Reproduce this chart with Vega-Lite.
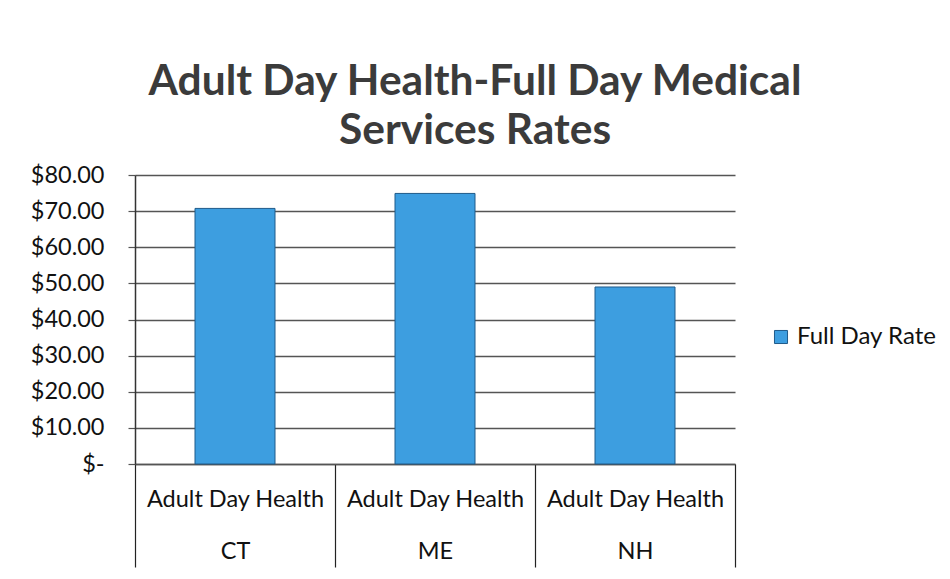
{
  "$schema": "https://vega.github.io/schema/vega-lite/v6.json",
  "width": 600,
  "height": 289,
  "autosize": {"type": "none"},
  "padding": {"left": 135, "top": 175, "right": 215, "bottom": 115},
  "background": "white",
  "config": {"view": {"stroke": null}},
  "title": {
    "text": ["Adult Day Health-Full Day Medical", "Services Rates"],
    "font": "Lato",
    "fontSize": 42.5,
    "fontWeight": "bold",
    "color": "#3b3b3b",
    "lineHeight": 49,
    "anchor": "middle",
    "frame": "group",
    "dx": 40,
    "offset": 11
  },
  "data": {
    "values": [
      {"state": "CT", "program": "Adult Day Health", "series": "Full Day Rate", "rate": 70.75},
      {"state": "ME", "program": "Adult Day Health", "series": "Full Day Rate", "rate": 74.9},
      {"state": "NH", "program": "Adult Day Health", "series": "Full Day Rate", "rate": 49.0}
    ]
  },
  "mark": {"type": "bar", "stroke": "#1f5a8a", "strokeWidth": 1, "width": {"band": 0.4}},
  "encoding": {
    "x": {
      "field": "state",
      "type": "nominal",
      "sort": null,
      "scale": {"paddingInner": 0, "paddingOuter": 0},
      "axis": {
        "title": null,
        "labelAngle": 0,
        "tickBand": "extent",
        "tickSize": 103,
        "tickColor": "#222222",
        "tickWidth": 1.2,
        "domainColor": "#555555",
        "domainWidth": 1.5,
        "labelExpr": "datum.label ? ['Adult Day Health', datum.label] : ''",
        "labelFont": "Lato",
        "labelFontSize": 23.5,
        "labelLimit": 0,
        "labelColor": "#111111",
        "labelLineHeight": 52,
        "labelPadding": -80,
        "labelBaseline": "top",
        "grid": false
      }
    },
    "y": {
      "field": "rate",
      "type": "quantitative",
      "scale": {"domain": [0, 80], "nice": false},
      "axis": {
        "title": null,
        "values": [0, 10, 20, 30, 40, 50, 60, 70, 80],
        "labelExpr": "datum.value == 0 ? '$-\u00a0' : '$' + format(datum.value, '.2f')",
        "labelFont": "Lato",
        "labelFontSize": 23.5,
        "labelColor": "#111111",
        "tickSize": 7,
        "tickColor": "#555555",
        "tickWidth": 1.2,
        "labelPadding": 24,
        "gridColor": "#555555",
        "gridWidth": 1.5,
        "domainColor": "#333333",
        "domainWidth": 1.5
      }
    },
    "color": {
      "field": "series",
      "type": "nominal",
      "scale": {"range": ["#3d9ee0"]},
      "legend": {
        "title": null,
        "orient": "none",
        "legendX": 634,
        "legendY": 150,
        "symbolType": "square",
        "symbolSize": 170,
        "symbolStrokeColor": "#1f5a8a",
        "symbolStrokeWidth": 1,
        "labelFont": "Lato",
        "labelFontSize": 24,
        "labelColor": "#111111"
      }
    }
  }
}
